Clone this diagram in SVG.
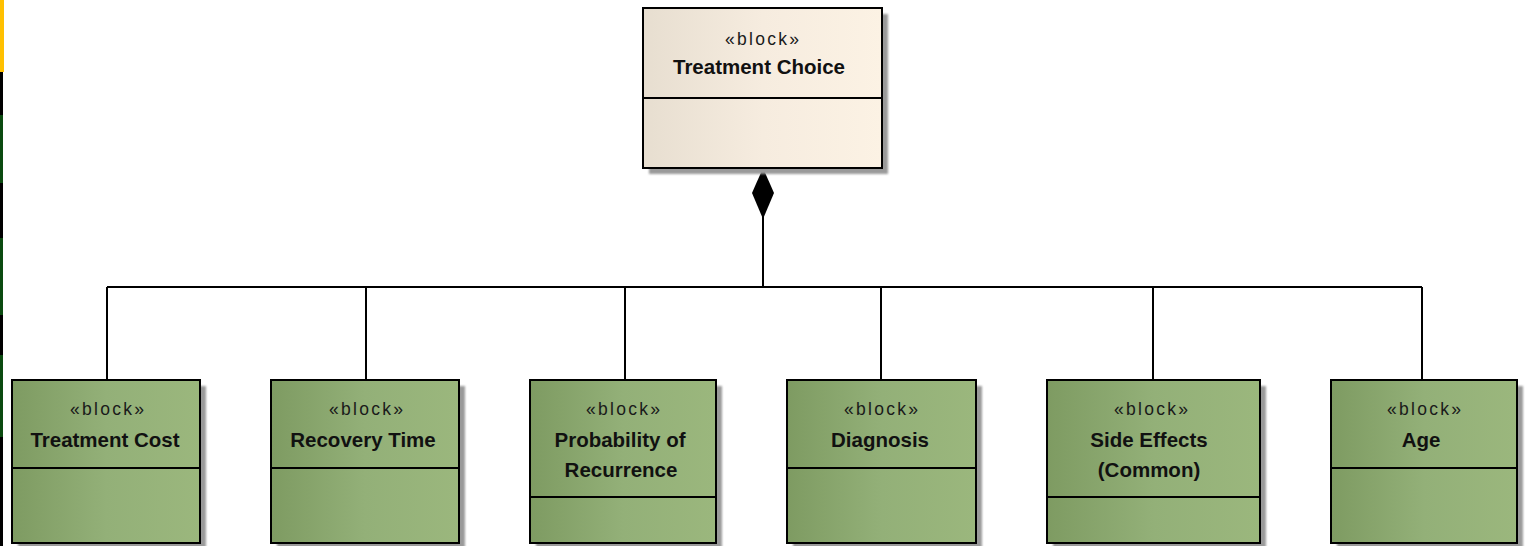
<svg xmlns="http://www.w3.org/2000/svg" width="1526" height="546" viewBox="0 0 1526 546">
  <style>
    .box { stroke: #000; stroke-width: 2; }
    .parent { fill: url(#gParent); }
    .part { fill: url(#gPart); }
    .shadow { fill: #9a9a9a; filter: url(#soft); }
    .div { stroke: #000; stroke-width: 2; }
    .stereo { font-family: "Liberation Sans", Arial, sans-serif; font-size: 17.5px; fill: #1a1a1a; text-anchor: middle; }
    .name { font-family: "Liberation Sans", Arial, sans-serif; font-size: 20.5px; font-weight: bold; fill: #111; text-anchor: middle; }
    .wire { stroke: #000; stroke-width: 2; fill: none; }
  </style>
  <defs>
    <linearGradient id="gParent" x1="0" y1="0" x2="1" y2="0">
      <stop offset="0" stop-color="#e7ded0"/>
      <stop offset="0.5" stop-color="#f6ecdf"/>
      <stop offset="1" stop-color="#fcf2e4"/>
    </linearGradient>
    <linearGradient id="gPart" x1="0" y1="0" x2="1" y2="0">
      <stop offset="0" stop-color="#7e9b62"/>
      <stop offset="0.5" stop-color="#93b078"/>
      <stop offset="1" stop-color="#9bb77d"/>
    </linearGradient>
    <filter id="soft" x="-5%" y="-5%" width="110%" height="110%">
      <feGaussianBlur stdDeviation="1"/>
    </filter>
    <marker id="diamond" markerWidth="24" markerHeight="54" refX="12" refY="1" orient="0" markerUnits="userSpaceOnUse">
      <path d="M12 1 L23 26 L12 52 L1 26 Z" fill="#000"/>
    </marker>
  </defs>

  <rect width="1526" height="546" fill="#fff"/>

  <!-- left edge colour strip -->
  <g id="edge-strip">
    <rect x="0" y="0" width="4" height="72" fill="#ffc000"/>
    <rect x="0" y="72" width="3" height="43" fill="#000"/>
    <rect x="0" y="115" width="3" height="68" fill="#0b4a10"/>
    <rect x="0" y="183" width="3" height="55" fill="#000"/>
    <rect x="0" y="238" width="3" height="77" fill="#0b4a10"/>
    <rect x="0" y="315" width="3" height="40" fill="#000"/>
    <rect x="0" y="355" width="3" height="82" fill="#0b4a10"/>
    <rect x="0" y="437" width="3" height="109" fill="#000"/>
  </g>

  <!-- composition connectors -->
  <g id="connectors">
    <path class="wire" d="M763 168 V287" marker-start="url(#diamond)"/>
    <path class="wire" d="M107 287 H1422"/>
    <path class="wire" d="M107 287 V380"/>
    <path class="wire" d="M366 287 V380"/>
    <path class="wire" d="M625 287 V380"/>
    <path class="wire" d="M881 287 V380"/>
    <path class="wire" d="M1153 287 V380"/>
    <path class="wire" d="M1422 287 V380"/>
  </g>

  <g id="treatment-choice">
    <rect class="shadow" x="649" y="14" width="239" height="160"/>
    <rect class="box parent" x="643" y="8" width="239" height="160"/>
    <line class="div" x1="643" y1="98" x2="882" y2="98"/>
    <text class="stereo" x="762" y="45" textLength="74" lengthAdjust="spacing">«block»</text>
    <text class="name" x="759" y="74">Treatment Choice</text>
  </g>

  <g id="treatment-cost">
    <rect class="shadow" x="18" y="386" width="188" height="163"/>
    <rect class="box part" x="12" y="380" width="188" height="163"/>
    <line class="div" x1="12" y1="468" x2="200" y2="468"/>
    <text class="stereo" x="107" y="415" textLength="74" lengthAdjust="spacing">«block»</text>
    <text class="name" x="105" y="447">Treatment Cost</text>
  </g>

  <g id="recovery-time">
    <rect class="shadow" x="277" y="386" width="188" height="163"/>
    <rect class="box part" x="271" y="380" width="188" height="163"/>
    <line class="div" x1="271" y1="468" x2="459" y2="468"/>
    <text class="stereo" x="366" y="415" textLength="74" lengthAdjust="spacing">«block»</text>
    <text class="name" x="363" y="447">Recovery Time</text>
  </g>

  <g id="probability-of-recurrence">
    <rect class="shadow" x="536" y="386" width="186" height="163"/>
    <rect class="box part" x="530" y="380" width="186" height="163"/>
    <line class="div" x1="530" y1="497" x2="716" y2="497"/>
    <text class="stereo" x="623" y="415" textLength="74" lengthAdjust="spacing">«block»</text>
    <text class="name" x="620" y="447">Probability of</text>
    <text class="name" x="621" y="477">Recurrence</text>
  </g>

  <g id="diagnosis">
    <rect class="shadow" x="793" y="386" width="189" height="163"/>
    <rect class="box part" x="787" y="380" width="189" height="163"/>
    <line class="div" x1="787" y1="468" x2="976" y2="468"/>
    <text class="stereo" x="881" y="415" textLength="74" lengthAdjust="spacing">«block»</text>
    <text class="name" x="880" y="447">Diagnosis</text>
  </g>

  <g id="side-effects">
    <rect class="shadow" x="1053" y="386" width="213" height="163"/>
    <rect class="box part" x="1047" y="380" width="213" height="163"/>
    <line class="div" x1="1047" y1="497" x2="1260" y2="497"/>
    <text class="stereo" x="1151" y="415" textLength="74" lengthAdjust="spacing">«block»</text>
    <text class="name" x="1149" y="447">Side Effects</text>
    <text class="name" x="1149" y="477">(Common)</text>
  </g>

  <g id="age">
    <rect class="shadow" x="1337" y="386" width="186" height="163"/>
    <rect class="box part" x="1331" y="380" width="186" height="163"/>
    <line class="div" x1="1331" y1="468" x2="1517" y2="468"/>
    <text class="stereo" x="1424" y="415" textLength="74" lengthAdjust="spacing">«block»</text>
    <text class="name" x="1421" y="447">Age</text>
  </g>
</svg>
